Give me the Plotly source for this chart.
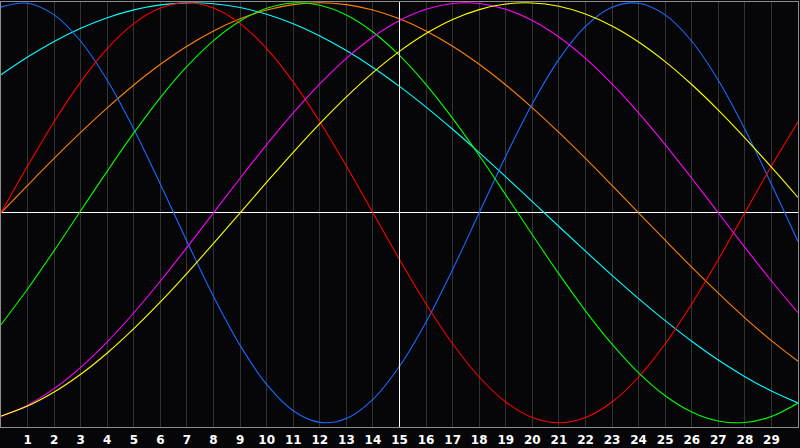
import plotly.graph_objects as go

# biorhythm chart, 30 day window (-1..1)
days = list(range(0, 31))
day_labels = [str(d) for d in range(1, 30)]
today = 15

physical = [0.9791, 0.9977, 0.9423, 0.8170, 0.6311, 0.3984, 0.1362, -0.1362, -0.3984, -0.6311,
  -0.8170, -0.9423, -0.9977, -0.9791, -0.8879, -0.7308, -0.5196, -0.2698, 0.0, 0.2698,
  0.5196, 0.7308, 0.8879, 0.9791, 0.9977, 0.9423, 0.8170, 0.6311, 0.3984, 0.1362, -0.1362]
emotional = [0.0, 0.2225, 0.4339, 0.6235, 0.7818, 0.9010, 0.9749, 1.0, 0.9749, 0.9010,
  0.7818, 0.6235, 0.4339, 0.2225, 0.0, -0.2225, -0.4339, -0.6235, -0.7818, -0.9010,
  -0.9749, -1.0, -0.9749, -0.9010, -0.7818, -0.6235, -0.4339, -0.2225, 0.0, 0.2225, 0.4339]
intellectual = [-0.5326, -0.3627, -0.1799, 0.0096, 0.1986, 0.3805, 0.5487, 0.6968, 0.8200, 0.9135,
  0.9740, 0.9993, 0.9884, 0.9418, 0.8612, 0.7494, 0.6107, 0.4498, 0.2726, 0.0856,
  -0.1045, -0.2909, -0.4667, -0.6257, -0.7621, -0.8708, -0.9480, -0.9911, -0.9984, -0.9695, -0.9056]
intuitive = [-0.9694, -0.9158, -0.8372, -0.7357, -0.6142, -0.4759, -0.3247, -0.1646, 0.0, 0.1646,
  0.3247, 0.4759, 0.6142, 0.7357, 0.8372, 0.9158, 0.9694, 0.9966, 0.9966, 0.9694,
  0.9158, 0.8372, 0.7357, 0.6142, 0.4759, 0.3247, 0.1646, 0.0, -0.1646, -0.3247, -0.4759]
aesthetic = [-0.9675, -0.9204, -0.8536, -0.7688, -0.6675, -0.5519, -0.4245, -0.2881, -0.1456, 0.0,
  0.1456, 0.2881, 0.4245, 0.5519, 0.6675, 0.7688, 0.8536, 0.9204, 0.9675, 0.9940,
  0.9993, 0.9834, 0.9464, 0.8893, 0.8133, 0.7200, 0.6111, 0.4894, 0.3572, 0.2174, 0.0730]
awareness = [0.0, 0.1305, 0.2588, 0.3827, 0.5, 0.6088, 0.7071, 0.7934, 0.8660, 0.9239,
  0.9659, 0.9914, 1.0, 0.9914, 0.9659, 0.9239, 0.8660, 0.7934, 0.7071, 0.6088,
  0.5, 0.3827, 0.2588, 0.1305, 0.0, -0.1305, -0.2588, -0.3827, -0.5, -0.6088, -0.7071]
spiritual = [0.6573, 0.7418, 0.8159, 0.8786, 0.9289, 0.9662, 0.9899, 0.9997, 0.9955, 0.9773,
  0.9454, 0.9002, 0.8424, 0.7727, 0.6922, 0.6020, 0.5034, 0.3977, 0.2864, 0.1711,
  0.0533, -0.0652, -0.1827, -0.2977, -0.4085, -0.5135, -0.6116, -0.7010, -0.7802, -0.8486, -0.9053]

series = [
  ("Spiritual", spiritual, "#00ffff"),
  ("Awareness", awareness, "#ff8000"),
  ("Physical", physical, "#1a6aff"),
  ("Emotional", emotional, "#ff0000"),
  ("Intellectual", intellectual, "#00ff00"),
  ("Intuitive", intuitive, "#ff00ff"),
  ("Aesthetic", aesthetic, "#ffff00"),
]

fig = go.Figure()
for name, vals, col in series:
  fig.add_trace(go.Scatter(x=days, y=vals, name=name, mode="lines",
    line=dict(color=col, width=1.1, shape="spline"), hoverinfo="skip"))

# the "today" marker
fig.add_shape(type="line", xref="x", yref="paper", x0=today, x1=today, y0=0, y1=1,
  line=dict(color="white", width=1), layer="above")

fig.update_layout(
  width=800, height=448,
  margin=dict(l=1, r=1, t=1, b=20),
  paper_bgcolor="#060608", plot_bgcolor="#060608",
  showlegend=False,
  xaxis=dict(range=[0, 30], tickvals=list(range(1, 30)), ticktext=day_labels,
    showgrid=True, gridcolor="#333333", gridwidth=1, zeroline=False,
    showline=True, linecolor="#8c8c8c", linewidth=1, mirror=True, ticks="",
    ticklabelstandoff=2,
    tickfont=dict(family="DejaVu Sans", size=12, color="white", weight="bold")),
  yaxis=dict(range=[-1.0199, 1.0038], showgrid=False, showticklabels=False,
    zeroline=True, zerolinecolor="white", zerolinewidth=1,
    showline=True, linecolor="#8c8c8c", linewidth=1, mirror=True, ticks=""),
)

# page body has an 8px margin by default, drop it so the chart fills the window
fig.write_html("out.html", config={"displayModeBar": False},
  post_script="document.body.style.margin='0';document.body.style.overflow='hidden';")
